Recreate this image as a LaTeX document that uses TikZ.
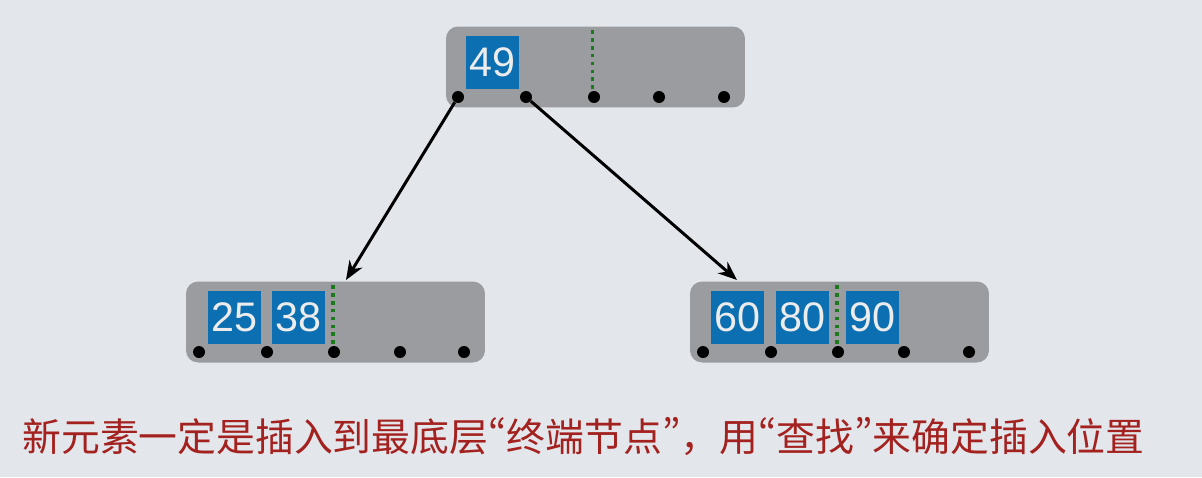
\documentclass[tikz,border=0pt]{standalone}
\usepackage{fontspec}
\setmainfont{Liberation Sans}
\newfontfamily\cjk{Noto Sans CJK SC}
\newfontfamily\cjkp[CharacterWidth=Proportional]{Noto Sans CJK SC}
\usetikzlibrary{arrows.meta}
\definecolor{bgc}{HTML}{E3E7EC}
\definecolor{boxgray}{HTML}{9B9CA0}
\definecolor{keyblue}{HTML}{0B6FB1}
\definecolor{keytext}{HTML}{ECECEC}
\definecolor{dotgreen}{HTML}{1B7A1B}
\definecolor{captred}{HTML}{A3211E}
\newcommand{\pq}[1]{{\cjkp #1}}
\tikzset{
  btnode/.style={draw=none, fill=boxgray, rounded corners=0.24cm, minimum width=5.98cm, minimum height=1.62cm, inner sep=0pt},
  keybox/.style={fill=keyblue, draw=none, minimum size=1.06cm, inner sep=0pt, text=keytext, font=\fontsize{23.5}{25}\selectfont},
  ptr/.style={circle, fill=black, minimum size=0.24cm, inner sep=0pt},
  sep/.style={dotgreen, line width=2.1pt, dash pattern=on 2.1pt off 2.4pt},
  arr/.style={black, line width=1.7pt, -{Stealth[length=0.38cm, width=0.3cm]}},
  caption/.style={anchor=west, inner sep=0pt, text=captred, font=\cjk\fontsize{22.1}{25}\selectfont}
}
\begin{document}
\begin{tikzpicture}[x=0.02cm, y=-0.02cm]
\fill[bgc] (0,0) rectangle (1202,477);
\useasboundingbox (0,0) rectangle (1202,477);
% root
\node[btnode] (root) at (595.5,67) {};
\node[keybox] (k49) at (492.5,62.5) {49};
\draw[sep] (592.5,30) -- (592.5,90);
\node[ptr] (r1) at (458,97) {};
\node[ptr] (r2) at (526,97) {};
\node[ptr] (r3) at (594,97) {};
\node[ptr] (r4) at (659,97) {};
\node[ptr] (r5) at (724,97) {};
% left leaf
\node[btnode] (left) at (335.5,322) {};
\node[keybox] (k25) at (234.5,317.5) {25};
\node[keybox] (k38) at (298.5,317.5) {38};
\draw[sep] (333,285) -- (333,345);
\node[ptr] (a1) at (199,352) {};
\node[ptr] (a2) at (267,352) {};
\node[ptr] (a3) at (334,352) {};
\node[ptr] (a4) at (400,352) {};
\node[ptr] (a5) at (464,352) {};
% right leaf
\node[btnode] (right) at (839.5,322) {};
\node[keybox] (k60) at (737.5,317.5) {60};
\node[keybox] (k80) at (802.5,317.5) {80};
\node[keybox] (k90) at (872.5,317.5) {90};
\draw[sep] (837,285) -- (837,345);
\node[ptr] (b1) at (703,352) {};
\node[ptr] (b2) at (771,352) {};
\node[ptr] (b3) at (838,352) {};
\node[ptr] (b4) at (904,352) {};
\node[ptr] (b5) at (969,352) {};
% connectors
\coordinate (lt) at (346,280);
\coordinate (rt) at (737,280);
\draw[arr] (r1) -- (lt);
\draw[arr] (r2) -- (rt);
% caption
\node[caption] (cap) at (22,437) {新元素一定是插入到最底层\pq{“}终端节点\pq{”}，用\pq{“}查找\pq{”}来确定插入位置};
\end{tikzpicture}
\end{document}
